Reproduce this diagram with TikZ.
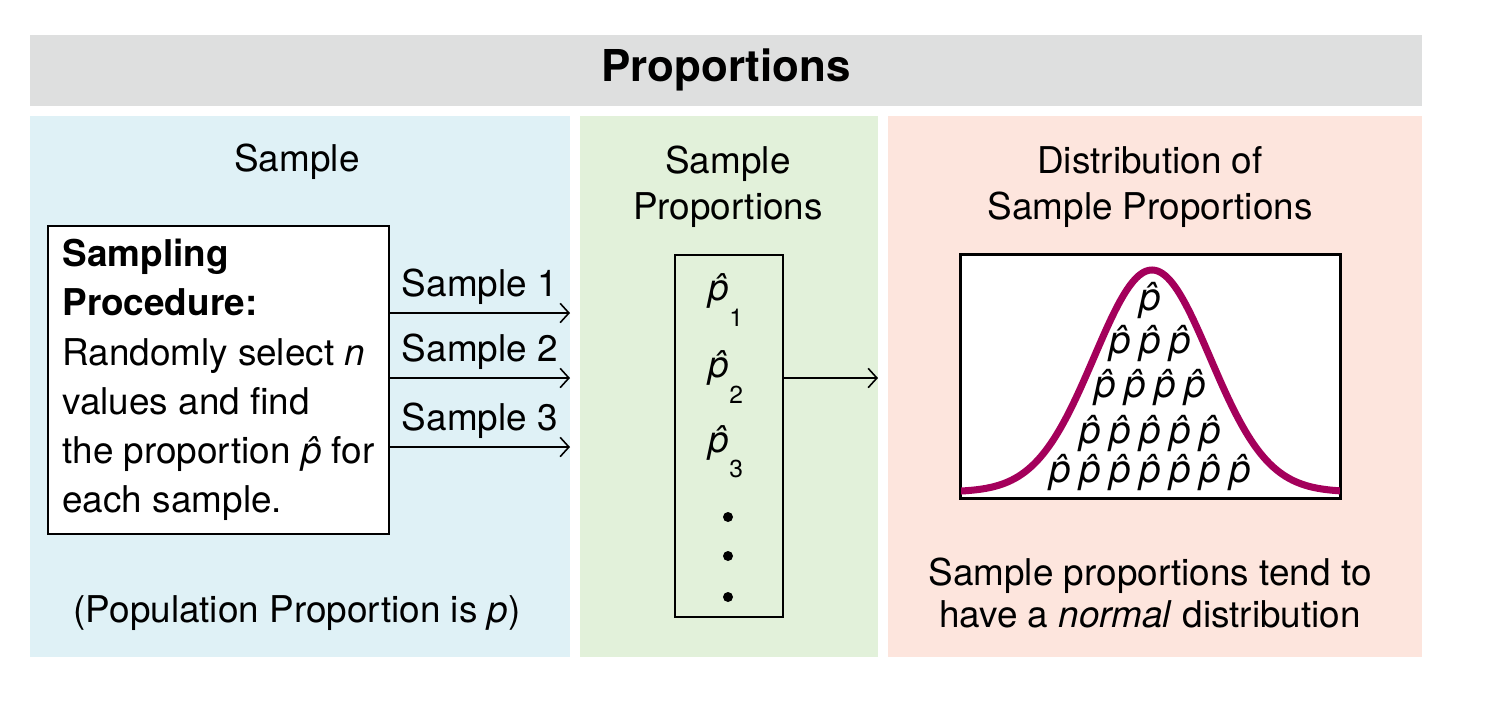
\documentclass[tikz,border=0pt]{standalone}
\usepackage{fontspec}
\setmainfont{TeX Gyre Heros}
\usetikzlibrary{positioning,arrows,arrows.meta}

\definecolor{bargray}{HTML}{DEDFDF}
\definecolor{sampblue}{HTML}{DFF1F6}
\definecolor{propgreen}{HTML}{E2F1DA}
\definecolor{distpink}{HTML}{FDE5DD}
\definecolor{curvered}{HTML}{A4005B}

\newcommand\phat{\textit{\^{p}}}
\newcommand\phatsub[1]{\phat\raisebox{-1.3ex}{\fontsize{14}{14}\selectfont#1}}

\begin{document}
\begin{tikzpicture}[x=0.02cm,y=-0.02cm,
	every node/.style={font=\fontsize{21}{27}\selectfont},
	heading/.style={align=center,font=\fontsize{21}{26}\selectfont},
	frame/.style={draw,line width=1.1pt,fill=white},
	flow/.style={-{Straight Barb[length=5pt,width=11pt]},line width=0.9pt}]
\useasboundingbox (0,0) rectangle (1495,708);

\fill[bargray](30,35)rectangle(1422,106);
\fill[sampblue](30,116)rectangle(570,657);
\fill[propgreen](580,116)rectangle(878,657);
\fill[distpink](888,116)rectangle(1422,657);

\node (title) at (726,70) {\fontsize{25}{25}\selectfont\bfseries Proportions};

% sample panel
\node (samphead) at (297,162) {Sample};
\node[frame,anchor=north west,minimum width=341*0.02cm,minimum height=308*0.02cm,
	align=left,font=\fontsize{21}{28}\selectfont] (sproc) at (47,225)
	{\textbf{Sampling}\\\textbf{Procedure:}\\Randomly select \textit{n}\\values and find\\the proportion \phat{} for\\each sample.};
\node (pop) at (297,613) {(Population Proportion is \textit{p})};

\foreach \y/\k in {313/1,378/2,447/3}{
	\coordinate (send\k) at (570,\y);
	\draw[flow](sproc.east|-send\k)--node[above=1pt]{Sample \k}(send\k);
}

% sample proportions panel
\node[heading] (prophead) at (728,187) {Sample\\Proportions};
\node[draw,line width=1.1pt,minimum width=108*0.02cm,minimum height=362*0.02cm] (plist) at (729,436) {};
\foreach \y/\k in {300/1,377/2,452/3}
	\node (phat\k) at (726,\y) {\phatsub{\k}};
\foreach \y/\k in {517/1,556/2,597/3}
	\fill (728,\y) circle[radius=0.1cm] coordinate (dot\k);
\coordinate (pout) at (878,378);
\draw[flow](plist.east|-pout)--(pout);

% distribution panel
\node[heading] (disthead) at (1150,187) {Distribution of\\Sample Proportions};
\node[frame,minimum width=379*0.02cm,minimum height=243*0.02cm,inner sep=0pt] (dbox) at (1150.5,376.5) {};
\begin{scope}
\clip (dbox.south west) rectangle (dbox.north east);
\draw[curvered,line width=4pt] plot[domain=961:1340,samples=120,smooth] (\x,{492-222*exp(-0.5*((\x-1152)/58)^2)});
\end{scope}
\draw[line width=1.1pt](dbox.south west)rectangle(dbox.north east);
\foreach \y/\n in {300/1,343/3,387/4,433/5,472/7}
	\foreach \i in {1,...,\n}
		\node[inner sep=0pt,font=\fontsize{22}{22}\selectfont] (p-\y-\i) at ({1150+30*(\i-(\n+1)/2)},\y) {\phat};
\node[align=center,font=\fontsize{21}{24}\selectfont] (distnote) at (1150,593)
	{Sample proportions tend to\\have a \textit{normal} distribution};

\end{tikzpicture}
\end{document}
